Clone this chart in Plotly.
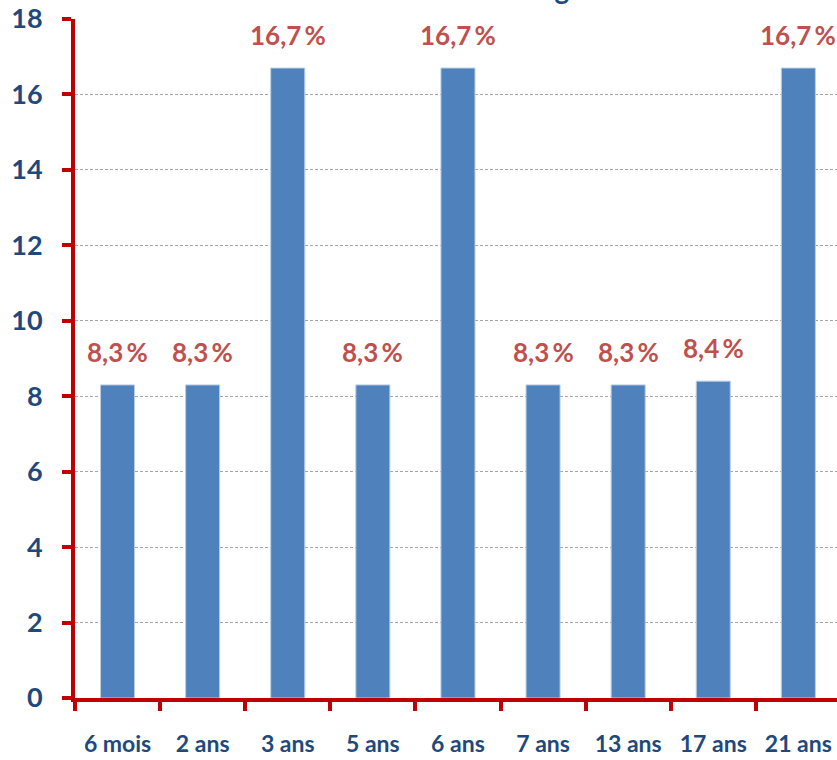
import plotly.graph_objects as go

# Age groups and their share of the sample (%)
categories = ["6 mois", "2 ans", "3 ans", "5 ans", "6 ans", "7 ans", "13 ans", "17 ans", "21 ans"]
shares = [8.3, 8.3, 16.7, 8.3, 16.7, 8.3, 8.3, 8.4, 16.7]
y_ticks = [0, 2, 4, 6, 8, 10, 12, 14, 16, 18]

BLUE_BAR = "#4F81BD"
NAVY = "#1F497D"
RED_LABEL = "#C0504D"
RED_AXIS = "#C00000"
FONT = "Lato"

fig = go.Figure(
    go.Bar(
        x=categories,
        y=shares,
        width=0.4,
        marker=dict(color=BLUE_BAR, line=dict(color="#B9CDE5", width=1)),
        hoverinfo="skip",
    )
)

# Percentage labels above each bar
for cat, val in zip(categories, shares):
    fig.add_annotation(
        x=cat, y=val, xref="x", yref="y",
        text=f"{val:.1f}".replace(".", ",") + "\u2009%",
        showarrow=False, yanchor="bottom", yshift=15,
        font=dict(family=FONT, size=26, color=RED_LABEL, weight="bold"),
    )

# Chart title sitting above the visible area (only its descenders show)
fig.add_annotation(
    x=0.67, y=1, xref="paper", yref="paper",
    text="Distribution selon l'âge",
    showarrow=False, xanchor="right", yanchor="bottom", yshift=12,
    font=dict(family=FONT, size=28, color=NAVY, weight="bold"),
)

fig.update_layout(
    width=837, height=760,
    margin=dict(l=75, r=0, t=19, b=62),
    paper_bgcolor="white", plot_bgcolor="white",
    showlegend=False,
    bargap=0.6,
)

fig.update_xaxes(
    range=[-0.5, 8.454],
    showline=True, linecolor=RED_AXIS, linewidth=4,
    ticks="outside", tickson="boundaries", ticklen=9, tickwidth=4, tickcolor=RED_AXIS,
    showgrid=False,
    tickangle=0,
    tickfont=dict(family=FONT, size=23, color=NAVY, weight="bold"),
    ticklabelstandoff=22,
)

fig.update_yaxes(
    range=[0, 18],
    tickvals=y_ticks,
    showline=True, linecolor=RED_AXIS, linewidth=4,
    ticks="outside", ticklen=9, tickwidth=4, tickcolor=RED_AXIS,
    showgrid=True, gridcolor="#A6A6A6", gridwidth=1, griddash="3px,2px",
    zeroline=False,
    tickfont=dict(family=FONT, size=27, color=NAVY, weight="bold"),
    ticklabelstandoff=14,
)

fig.write_html("out.html")
